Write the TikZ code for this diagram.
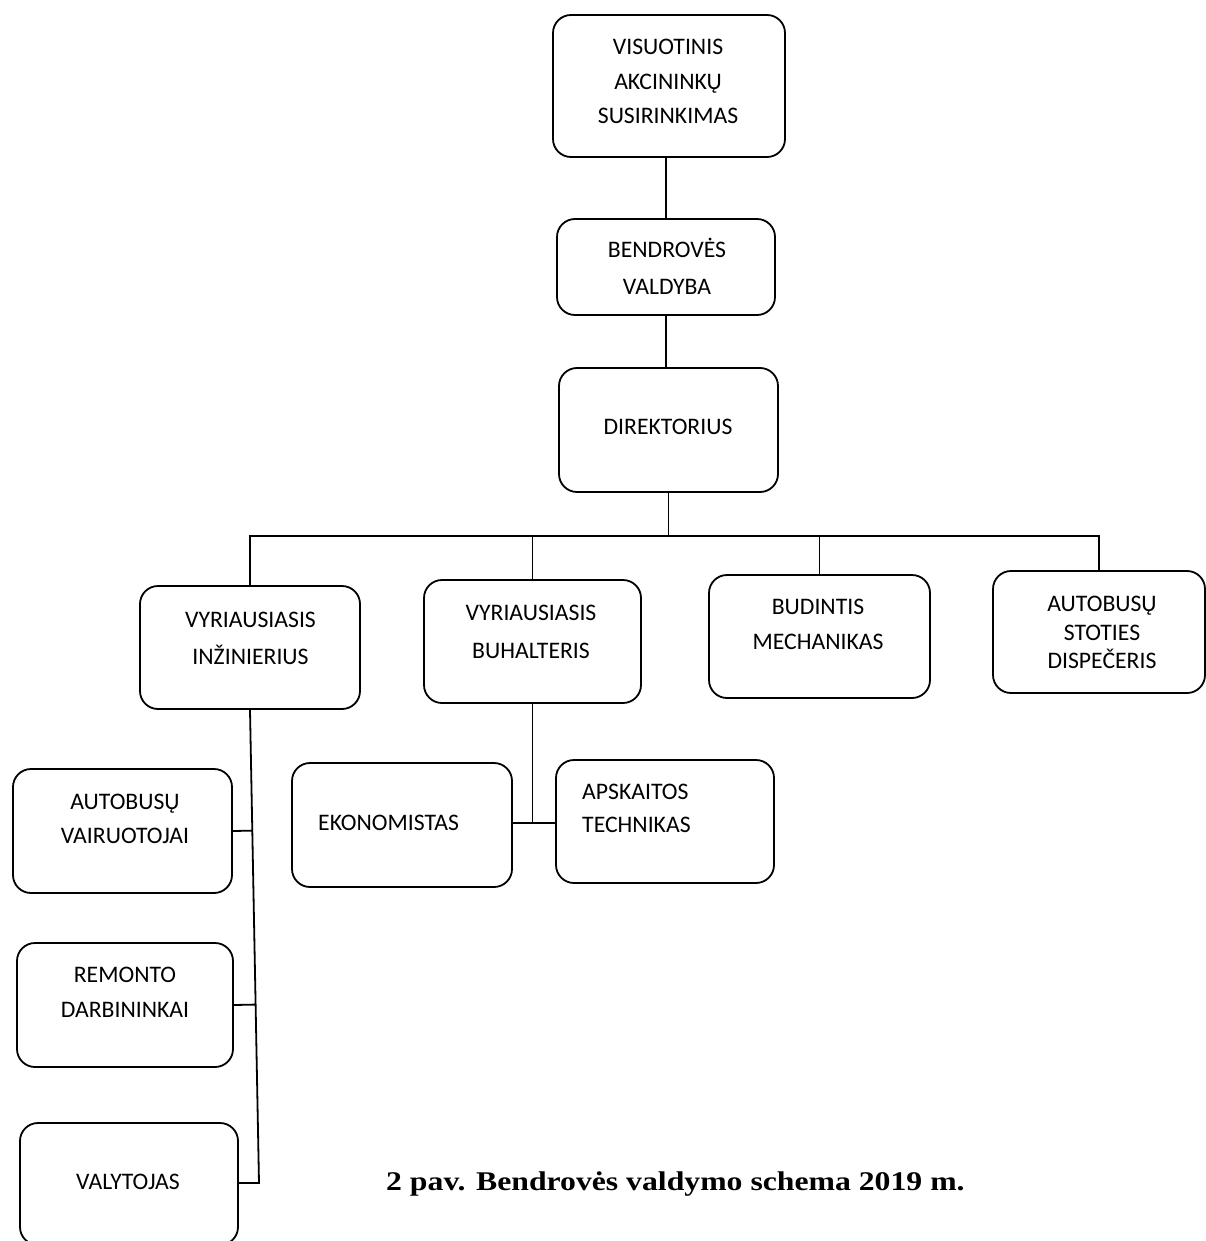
\documentclass[tikz,border=0pt]{standalone}
\usepackage{fontspec}
\usepackage{graphicx}
\setmainfont{Liberation Serif}
\newfontfamily\boxfont{Carlito}
\usetikzlibrary{calc}
\begin{document}
\begin{tikzpicture}[x=1pt,y=-1pt,
  orgbox/.style={draw, line width=1.8pt, rounded corners=18pt, inner sep=0pt},
  lbl/.style={font=\boxfont\fontsize{23.7}{28}\selectfont, inner sep=0pt, anchor=base},
  lblw/.style={lbl, anchor=base west},
  conn/.style={line width=1.8pt}]
\useasboundingbox (0,0) rectangle (1206,1241);
\fill[white] (0,0) rectangle (1206,1241);

% boxes
\node[orgbox, minimum width=232pt, minimum height=142pt] (vis) at (669,86) {};
\node[orgbox, minimum width=218pt, minimum height=96pt] (val) at (666,267) {};
\node[orgbox, minimum width=219pt, minimum height=124pt] (dir) at (668.5,430) {};
\node[orgbox, minimum width=220pt, minimum height=123pt] (inz) at (250,647.5) {};
\node[orgbox, minimum width=217pt, minimum height=123pt] (buh) at (532.5,641.5) {};
\node[orgbox, minimum width=221pt, minimum height=123pt] (bud) at (819.5,636.5) {};
\node[orgbox, minimum width=212pt, minimum height=122pt] (sto) at (1099,632) {};
\node[orgbox, minimum width=219pt, minimum height=124pt] (vair) at (122.5,831) {};
\node[orgbox, minimum width=216pt, minimum height=124pt] (rem) at (125,1005) {};
\node[orgbox, minimum width=218pt, minimum height=122pt] (valy) at (129,1184) {};
\node[orgbox, minimum width=220pt, minimum height=124pt] (eko) at (402,825) {};
\node[orgbox, minimum width=218pt, minimum height=123pt] (aps) at (665,821.5) {};

% texts
\node[lbl] (visA) at (668,54.5) {VISUOTINIS};
\node[lbl] (visB) at (668,89.5) {AKCININKŲ};
\node[lbl] (visC) at (668,123.5) {SUSIRINKIMAS};
\node[lbl] (valA) at (667,257.5) {BENDROVĖS};
\node[lbl] (valB) at (667,294.5) {VALDYBA};
\node[lbl] (dirA) at (668,434.5) {DIREKTORIUS};
\node[lbl] (inzA) at (250.5,627.5) {VYRIAUSIASIS};
\node[lbl] (inzB) at (250.5,664.5) {INŽINIERIUS};
\node[lbl] (buhA) at (531,620.5) {VYRIAUSIASIS};
\node[lbl] (buhB) at (531,658.5) {BUHALTERIS};
\node[lbl] (budA) at (818,614.5) {BUDINTIS};
\node[lbl] (budB) at (818,649.5) {MECHANIKAS};
\node[lbl] (stoA) at (1102,611) {AUTOBUSŲ};
\node[lbl] (stoB) at (1102,640) {STOTIES};
\node[lbl] (stoC) at (1102,668) {DISPEČERIS};
\node[lbl] (vairA) at (125,809.5) {AUTOBUSŲ};
\node[lbl] (vairB) at (125,843.5) {VAIRUOTOJAI};
\node[lbl] (remA) at (125,982.5) {REMONTO};
\node[lbl] (remB) at (125,1017.5) {DARBININKAI};
\node[lbl] (valyA) at (128,1189) {VALYTOJAS};
\node[lblw] (ekoA) at (318,830.5) {EKONOMISTAS};
\node[lblw] (apsA) at (582,799.5) {APSKAITOS};
\node[lblw] (apsB) at (582,832.5) {TECHNIKAS};

% connectors
\draw[conn] (val.north) -- (val.north |- vis.south);
\draw[conn] (val.south) -- (val.south |- dir.north);
\coordinate (bus) at (0,536);
\draw[conn] (dir.south) -- (dir.south |- bus);
\draw[conn] (inz.north) -- (inz.north |- bus) -- (sto.north |- bus) -- (sto.north);
\draw[conn] (buh.north) -- (buh.north |- bus);
\draw[conn] (bud.north) -- (bud.north |- bus);

\coordinate (trunkend) at (259,1183);
\draw[conn] (inz.south) -- (trunkend) -- (trunkend -| valy.east);
\coordinate (j1) at ($(inz.south)!(vair.east)!(trunkend)$);
\coordinate (j2) at ($(inz.south)!(rem.east)!(trunkend)$);
\draw[conn] (vair.east) -- (j1);
\draw[conn] (rem.east) -- (j2);

\coordinate (bj) at (buh.south |- 0,823);
\draw[conn] (buh.south) -- (bj);
\draw[conn] (eko.east |- bj) -- (aps.west |- bj);

% caption
\node[anchor=base west, inner sep=0pt] (cap) at (386,1190)
  {\scalebox{1.175}[1]{\fontsize{27}{32}\selectfont\bfseries 2 pav. Bendrovės valdymo schema 2019 m.}};
\end{tikzpicture}
\end{document}
